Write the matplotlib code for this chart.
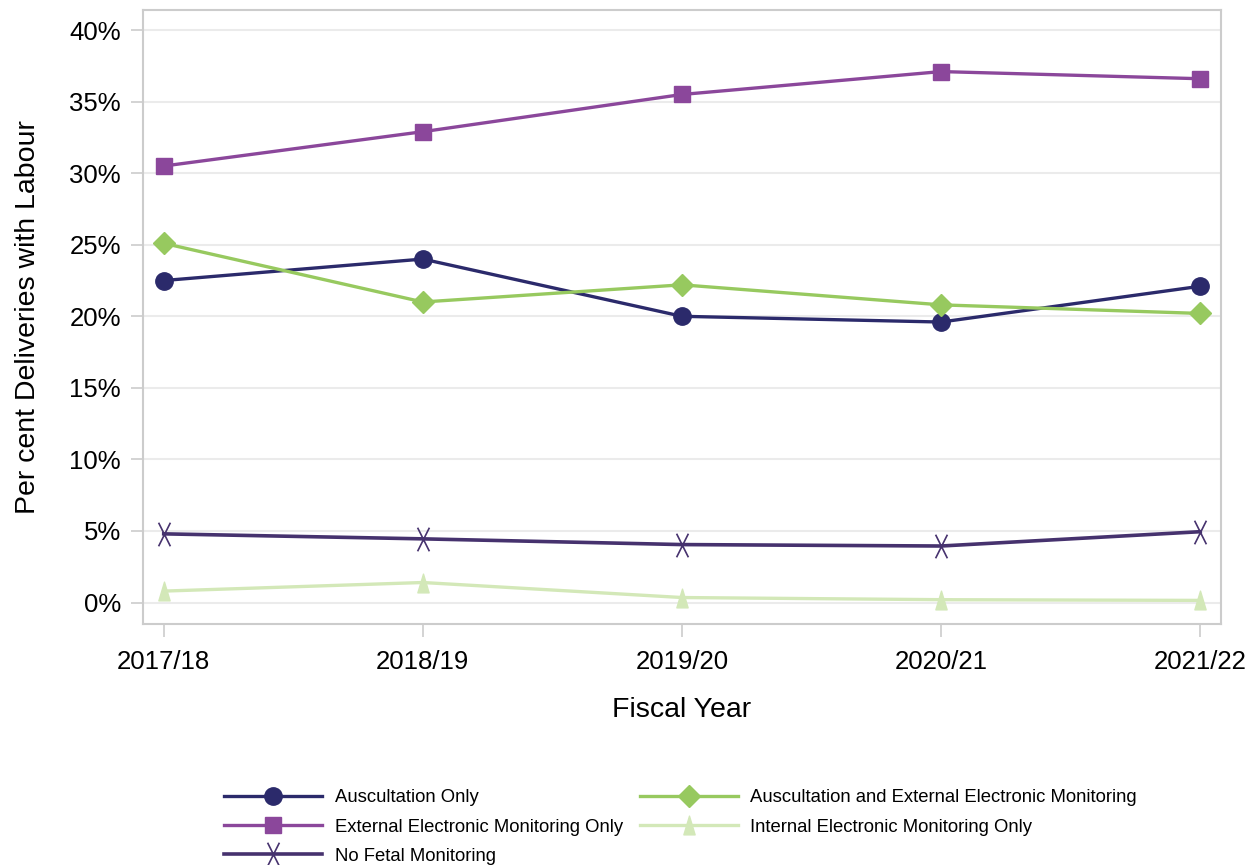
import matplotlib.pyplot as plt
from matplotlib.ticker import FuncFormatter
from matplotlib.path import Path

years = ["2017/18", "2018/19", "2019/20", "2020/21", "2021/22"]
ausc_only = [22.5, 24.0, 20.0, 19.6, 22.1]
ext_only = [30.5, 32.9, 35.5, 37.1, 36.6]
ausc_ext = [25.1, 21.0, 22.2, 20.8, 20.2]
int_only = [0.8, 1.4, 0.35, 0.2, 0.15]
no_fetal = [4.8, 4.45, 4.05, 3.95, 4.95]

plt.rcParams['font.family'] = ['Liberation Sans', 'DejaVu Sans']

# tall narrow cross and triangle, like the original
tall_x = Path([(-0.5, -1), (0.5, 1), (-0.5, 1), (0.5, -1)],
              [Path.MOVETO, Path.LINETO, Path.MOVETO, Path.LINETO])
tall_tri = Path([(-0.6, -1), (0.6, -1), (0, 1), (-0.6, -1)],
                [Path.MOVETO, Path.LINETO, Path.LINETO, Path.CLOSEPOLY])

fig = plt.figure(figsize=(12.51, 8.65), dpi=100)
ax = fig.add_axes([0.1143, 0.2786, 0.8617, 0.7098])

x = range(len(years))
h1, = ax.plot(x, ausc_only, color='#2b2a6b', lw=2.4, marker='o', ms=12.5, label='Auscultation Only')
h2, = ax.plot(x, ext_only, color='#8b479b', lw=2.4, marker='s', ms=11.5, label='External Electronic Monitoring Only')
h3, = ax.plot(x, no_fetal, color='#46326e', lw=2.6, marker=tall_x, ms=17, mew=1.2, label='No Fetal Monitoring')
h4, = ax.plot(x, ausc_ext, color='#97c95f', lw=2.4, marker='D', ms=11, label='Auscultation and External Electronic Monitoring')
h5, = ax.plot(x, int_only, color='#d3e8b8', lw=2.4, marker=tall_tri, ms=13.5, label='Internal Electronic Monitoring Only')

ax.set_xlim(-0.08, 4.08)
ax.set_ylim(-1.5, 41.4)
ax.set_xticks(list(x))
ax.set_xticklabels(years)
ax.set_yticks(range(0, 41, 5))
ax.yaxis.set_major_formatter(FuncFormatter(lambda v, p: f"{v:.0f}%"))
ax.grid(axis='y', color='#ebebeb', lw=1.5)
ax.set_axisbelow(True)
for s in ax.spines.values():
    s.set_color('#cccccc')
    s.set_linewidth(1.5)
ax.tick_params(axis='x', length=9, color='#cccccc', width=1.2, labelsize=18.5, pad=10)
ax.tick_params(axis='y', length=9, color='#cccccc', width=1.2, labelsize=18.5, pad=7)

ax.set_xlabel('Fiscal Year', fontsize=20.5, labelpad=16)
ax.set_ylabel('Per cent Deliveries with Labour', fontsize=20.5, labelpad=20)

leg = fig.legend(handles=[h1, h2, h3, h4, h5], ncol=2, loc='upper left',
                 bbox_to_anchor=(0.172, 0.098), frameon=False, handlelength=5.3,
                 columnspacing=0.95, labelspacing=0.66, handletextpad=0.66,
                 borderpad=0, prop={'size': 13.3})

fig.savefig('out.png', dpi=100)
